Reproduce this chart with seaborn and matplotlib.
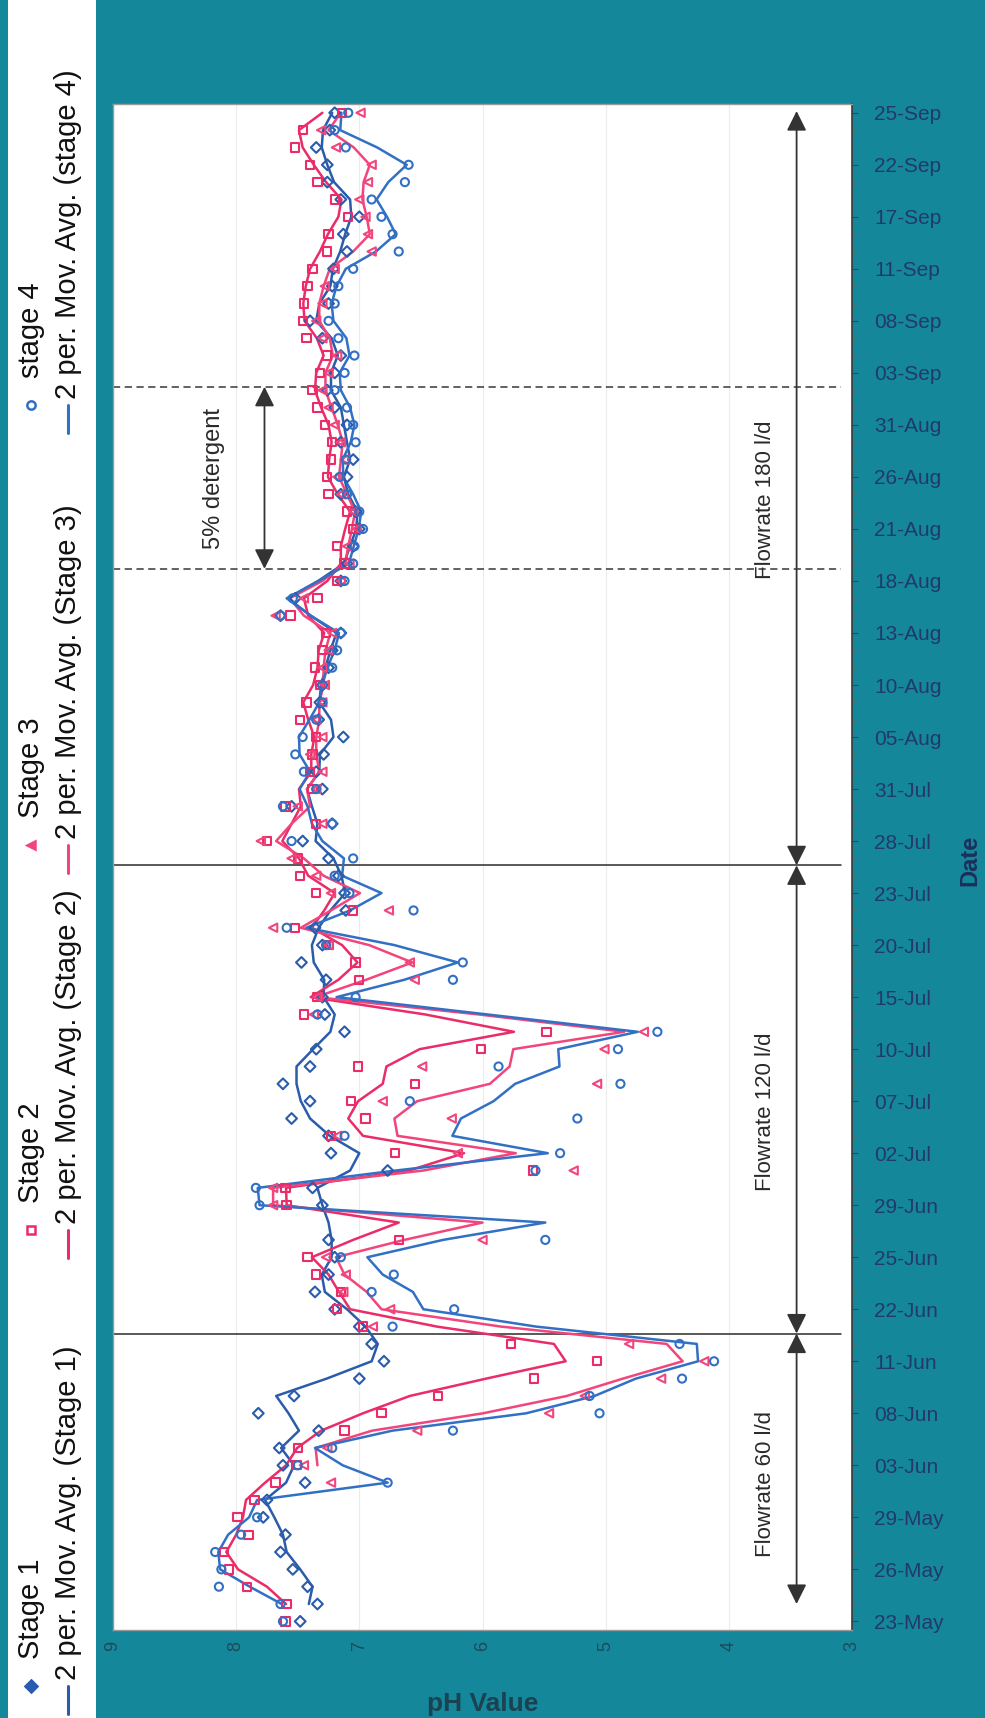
import numpy as np
import pandas as pd
import matplotlib
matplotlib.use('Agg')
import matplotlib.pyplot as plt
from matplotlib.lines import Line2D
from matplotlib.patches import Rectangle
import seaborn as sns

nan = np.nan

# category labels (every third measurement day is labelled)
date_labels = ['23-May', '26-May', '29-May', '03-Jun', '08-Jun', '11-Jun', '22-Jun',
               '25-Jun', '29-Jun', '02-Jul', '07-Jul', '10-Jul', '15-Jul', '20-Jul',
               '23-Jul', '28-Jul', '31-Jul', '05-Aug', '10-Aug', '13-Aug', '18-Aug',
               '21-Aug', '26-Aug', '31-Aug', '03-Sep', '08-Sep', '11-Sep', '17-Sep',
               '22-Sep', '25-Sep']

stage1 = [7.48, 7.34, 7.42, 7.54, 7.64, 7.60, 7.78, 7.75, 7.44, 7.62,
          7.65, 7.33, 7.82, 7.53, 7.00, 6.80, 6.90, 7.00, 7.20, 7.36,
          7.25, 7.20, 7.25, nan, 7.30, 7.38, 6.77, 7.23, 7.25, 7.55,
          7.40, 7.62, 7.40, 7.35, 7.12, 7.28, 7.30, 7.27, 7.47, 7.30,
          7.36, 7.11, 7.12, 7.17, 7.25, 7.46, 7.22, 7.55, 7.30, 7.35,
          7.29, 7.13, 7.33, 7.32, 7.30, 7.25, 7.22, 7.15, 7.64, 7.52,
          7.15, 7.10, 7.05, 7.00, 7.03, 7.15, 7.10, 7.05, 7.15, 7.10,
          7.20, 7.26, 7.20, 7.15, 7.30, 7.40, 7.25, 7.22, 7.21, 7.10,
          7.13, 7.00, 7.15, 7.26, 7.26, 7.35, 7.24, 7.20]
stage2 = [7.60, 7.59, 7.91, 8.06, 8.10, 7.90, 7.99, 7.85, 7.68, 7.51,
          7.50, 7.12, 6.82, 6.36, 5.58, 5.07, 5.77, 6.97, 7.18, 7.15,
          7.35, 7.42, 6.68, nan, 7.59, 7.60, 5.59, 6.71, 7.23, 6.95,
          7.07, 6.55, 7.01, 6.01, 5.48, 7.45, 7.34, 7.00, 7.03, 7.25,
          7.52, 7.05, 7.35, 7.48, 7.50, 7.75, 7.35, 7.60, 7.38, 7.40,
          7.38, 7.35, 7.48, 7.43, 7.32, 7.36, 7.30, 7.27, 7.56, 7.34,
          7.18, 7.12, 7.18, 7.05, 7.10, 7.25, 7.26, 7.23, 7.22, 7.28,
          7.34, 7.38, 7.32, 7.26, 7.43, 7.46, 7.45, 7.42, 7.38, 7.26,
          7.25, 7.09, 7.20, 7.34, 7.40, 7.52, 7.46, 7.14]
stage3 = [nan, nan, nan, nan, nan, nan, nan, nan, 7.23, 7.45,
          7.26, 6.53, 5.46, 5.17, 4.55, 4.20, 4.81, 6.89, 6.75, 7.13,
          7.11, 7.27, 6.00, nan, 7.70, 7.70, 5.26, 6.20, 7.18, 6.25,
          6.81, 5.07, 6.49, 5.01, 4.69, 7.37, 7.34, 6.55, 6.59, 7.25,
          7.70, 6.76, 7.23, 7.35, 7.55, 7.80, 7.30, 7.50, 7.35, 7.30,
          7.40, 7.30, 7.35, 7.30, 7.28, 7.30, 7.25, 7.22, 7.68, 7.45,
          7.15, 7.08, 7.10, 7.02, 7.05, 7.15, 7.18, 7.12, 7.15, 7.20,
          7.25, 7.30, 7.25, 7.18, 7.30, 7.35, 7.30, 7.28, 7.20, 6.90,
          6.93, 6.95, 7.00, 6.93, 6.90, 7.19, 7.31, 6.99]
stage4 = [7.62, 7.64, 8.14, 8.12, 8.17, 7.96, 7.83, nan, 6.77, 7.50,
          7.22, 6.24, 5.05, 5.13, 4.38, 4.12, 4.40, 6.73, 6.23, 6.90,
          6.72, 7.15, 5.49, nan, 7.81, 7.84, 5.57, 5.37, 7.12, 5.23,
          6.59, 4.88, 5.87, 4.90, 4.58, 7.34, 7.03, 6.24, 6.16, 7.27,
          7.59, 6.56, 7.08, 7.20, 7.05, 7.55, 7.22, 7.62, 7.35, 7.45,
          7.52, 7.46, 7.35, 7.30, 7.30, 7.22, 7.18, 7.15, 7.64, 7.54,
          7.12, 7.05, 7.04, 6.97, 7.00, 7.10, 7.16, 7.11, 7.03, 7.05,
          7.10, 7.20, 7.12, 7.04, 7.17, 7.25, 7.20, 7.17, 7.05, 6.68,
          6.73, 6.82, 6.90, 6.63, 6.60, 7.11, 7.20, 7.09]

ph_ticks = [9, 8, 7, 6, 5, 4, 3]
# phase boundaries (category positions)
flow_bounds = [16.6, 43.6]
detergent_bounds = [60.7, 71.2]

n = len(stage1)
idx = np.arange(n)

blue1 = '#2a5cab'
blue4 = '#3170c4'
pink2 = '#ea2c68'
pink3 = '#f2457c'
teal = '#14879a'
ink = '#333333'


def mov_avg(vals):
    s = pd.Series(vals, dtype=float)
    ma = s.rolling(2, min_periods=1).mean()
    ma[s.index <= s.first_valid_index()] = nan
    return ma


sns.set_theme(style='white')
plt.rcParams['font.family'] = ['Liberation Sans', 'DejaVu Sans']

fig = plt.figure(figsize=(9.85, 17.18), dpi=100)
fig.patch.set_facecolor(teal)
ax = fig.add_axes([0.1147, 0.0512, 0.7503, 0.8882])
ax.set_facecolor('white')

stages = [
    (stage1, 'D', blue1, 30),
    (stage2, 's', pink2, 36),
    (stage3, '<', pink3, 36),
    (stage4, 'o', blue4, 34),
]
for vals, mk, col, size in stages:
    sns.lineplot(x=mov_avg(vals), y=idx, orient='y', sort=False, estimator=None,
                 color=col, lw=1.8, ax=ax, zorder=3)
for vals, mk, col, size in stages:
    sns.scatterplot(x=vals, y=idx, marker=mk, s=size, facecolor='none',
                    edgecolor=col, linewidth=1.5, ax=ax, zorder=4)

ax.set_xlim(9, 3)
ax.set_ylim(-0.5, n - 0.5)

# phase lines
for b in flow_bounds:
    ax.axhline(b, xmin=0, xmax=0.985, color='#2b2b2b', lw=1.1, zorder=2)
for b in detergent_bounds:
    ax.axhline(b, xmin=0, xmax=0.985, color='#555555', lw=1.3,
               ls=(0, (4, 2.5)), zorder=2)

arrow = dict(arrowstyle='<|-|>', color=ink, lw=1.3, mutation_scale=30,
             shrinkA=0, shrinkB=0)
ax.annotate('', xy=(3.45, flow_bounds[0]), xytext=(3.45, 1.0), arrowprops=arrow)
ax.annotate('', xy=(3.45, flow_bounds[1]), xytext=(3.45, flow_bounds[0]), arrowprops=arrow)
ax.annotate('', xy=(3.45, 87.1), xytext=(3.45, flow_bounds[1]), arrowprops=arrow)
ax.annotate('', xy=(7.77, detergent_bounds[1]), xytext=(7.77, detergent_bounds[0]),
            arrowprops=arrow)

txt = dict(rotation=90, ha='center', va='center', fontsize=16, color='#2a2a2a')
ax.text(3.70, 7.9, 'Flowrate 60 l/d', **txt)
ax.text(3.70, 29.4, 'Flowrate 120 l/d', **txt)
ax.text(3.70, 64.7, 'Flowrate 180 l/d', **txt)
ax.text(8.18, 65.9, '5% detergent', rotation=90, ha='center', va='center',
        fontsize=17, color='#2a2a2a')

# axes styling
ax.set_xticks(ph_ticks)
ax.set_xticklabels([str(t) for t in ph_ticks], rotation=90, fontsize=13, color='#1f4a5a')
ax.tick_params(axis='x', length=0, pad=8)
ax.grid(axis='x', color='#ececec', lw=0.8)
ax.yaxis.tick_right()
ax.set_yticks(idx[::3])
ax.set_yticklabels(date_labels, fontsize=15, color='#213a6b')
ax.tick_params(axis='y', right=True, length=4, width=0.8, color='#444444', pad=12)
ax.set_yticks(idx, minor=True)
ax.tick_params(axis='y', which='minor', right=True, length=2, color='#666666')
ax.set_xlabel('')
ax.set_ylabel('')
for side in ['left', 'top', 'bottom']:
    ax.spines[side].set_color('#9a9a9a')
    ax.spines[side].set_linewidth(1.0)
ax.spines['right'].set_color('#3a3a3a')
ax.spines['right'].set_linewidth(1.2)

fig.text(0.49, 0.008, 'pH Value', ha='center', va='center', fontsize=19,
         fontweight='bold', color='#1a4252')
fig.text(0.985, 0.4994, 'Date', rotation=90, ha='center', va='center', fontsize=17,
         fontweight='bold', color='#1c2f5a')

# legend panel, drawn rotated like the rest of the chart
fig.add_artist(Rectangle((0.008, 0), 0.089, 1, transform=fig.transFigure,
                         fc='white', ec='none', zorder=0))
legend_items = [
    ('Stage 1', 'D', blue1, '2 per. Mov. Avg. (Stage 1)', blue1),
    ('Stage 2', 's', pink2, '2 per. Mov. Avg. (Stage 2)', pink2),
    ('Stage 3', '<', pink3, '2 per. Mov. Avg. (Stage 3)', pink3),
    ('stage 4', 'o', blue4, '2 per. Mov. Avg. (stage 4)', blue4),
]
legend_base = [1714, 1258, 873, 433]
H = 1718.0
for (lab, mk, mc, ma_lab, lc), base in zip(legend_items, legend_base):
    yb = 1 - base / H
    fig.add_artist(Line2D([0.069, 0.069], [yb, yb + 28 / H], color=lc, lw=2.2,
                          transform=fig.transFigure))
    fig.text(0.069, yb + 34 / H, ma_lab, rotation=90, ha='center', va='bottom',
             fontsize=21, color='#111111')
    fig.add_artist(Line2D([0.0315], [yb + 28 / H], marker=mk, ms=6,
                          mfc=mc if mk in ('D', '<') else 'white',
                          mec=mc, mew=1.8, transform=fig.transFigure))
    fig.text(0.0315, yb + 55 / H, lab, rotation=90, ha='center', va='bottom',
             fontsize=21, color='#111111')

fig.savefig('out.png', dpi=100, facecolor=fig.get_facecolor())
